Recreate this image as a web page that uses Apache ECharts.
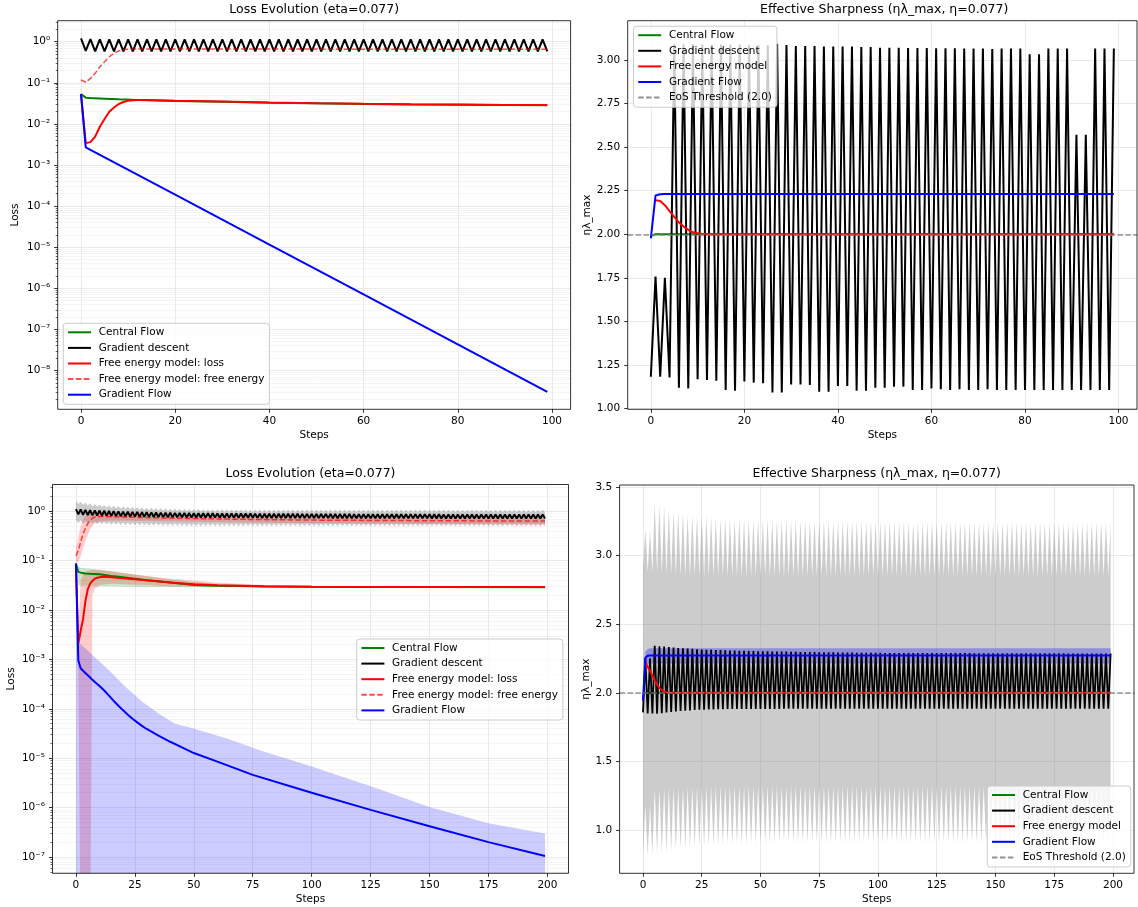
<!DOCTYPE html>
<html>
<head>
<meta charset="utf-8">
<title>Loss evolution and effective sharpness</title>
<script src="https://cdn.jsdelivr.net/npm/echarts@6/dist/echarts.min.js"></script>
<style>
  html, body { margin: 0; padding: 0; background: #ffffff; }
  #chart { width: 1138px; height: 907px; }
</style>
</head>
<body>
<div id="chart"></div>
<script>
// ---------- tick values ----------
const stepTicks100 = [0, 20, 40, 60, 80, 100];
const stepTicks200 = [0, 25, 50, 75, 100, 125, 150, 175, 200];
const tlLossTicks = [1e-8, 1e-7, 1e-6, 1e-5, 1e-4, 1e-3, 1e-2, 1e-1, 1];
const blLossTicks = [1e-7, 1e-6, 1e-5, 1e-4, 1e-3, 1e-2, 1e-1, 1];
const trSharpTicks = [1.0, 1.25, 1.5, 1.75, 2.0, 2.25, 2.5, 2.75, 3.0];
const brSharpTicks = [1.0, 1.5, 2.0, 2.5, 3.0, 3.5];

// ---------- top-left: loss, one run, 100 steps ----------
const tlGdLoss = [
  1.21,0.6,1.15,0.58,1.14,0.58,1.14,0.58,1.14,0.58,
  1.14,0.58,1.14,0.58,1.14,0.58,1.14,0.58,1.14,0.58,
  1.14,0.58,1.14,0.58,1.14,0.58,1.14,0.58,1.14,0.58,
  1.14,0.58,1.14,0.58,1.14,0.58,1.14,0.58,1.14,0.58,
  1.14,0.58,1.14,0.58,1.14,0.58,1.14,0.58,1.14,0.58,
  1.14,0.58,1.14,0.58,1.14,0.58,1.14,0.58,1.14,0.58,
  1.14,0.58,1.14,0.58,1.14,0.58,1.14,0.58,1.14,0.58,
  1.14,0.58,1.14,0.58,1.14,0.58,1.14,0.58,1.14,0.58,
  1.14,0.58,1.14,0.58,1.14,0.58,1.14,0.58,1.14,0.58,
  1.14,0.58,1.14,0.58,1.14,0.58,1.14,0.58,1.14,0.58
];
const tlCfSteps = [0,1,2,3,5,8,12,16,20,30,40,50,60,70,80,90,99];
const tlCfLoss = [0.053,0.0435,0.0425,0.042,0.041,0.0395,0.038,0.037,0.036,0.0345,0.0328,0.0316,0.0306,0.0298,0.0292,0.0288,0.0285];
const tlFeSteps = [0,1,2,3,4,5,6,7,8,9,10,11,12,13,14,16,20,30,40,50,60,70,80,90,99];
const tlFeLoss = [0.053,0.0034,0.0036,0.0049,0.0085,0.0132,0.0198,0.025,0.0305,0.034,0.0366,0.0378,0.0382,0.0382,0.038,0.0376,0.0368,0.035,0.0333,0.032,0.031,0.0302,0.0295,0.029,0.0287];
const tlFreeSteps = [0,1,2,3,4,5,6,7,8,9,10,11,12,15,20,40,60,80,99];
const tlFreeEnergy = [0.117,0.103,0.128,0.17,0.245,0.325,0.43,0.52,0.6,0.64,0.655,0.66,0.662,0.665,0.665,0.662,0.658,0.655,0.652];
const tlGfSteps = [0,1,2,20,40,60,80,99];
const tlGfLoss = [0.053,0.0027,0.00234,1.9e-4,1.16e-5,7.1e-7,4.3e-8,3.0e-9];

// ---------- top-right: sharpness, one run, 100 steps ----------
const trGdSharp = [
  1.183,1.757,1.183,1.751,1.178,3.09,1.12,3.09,1.116,3.09,
  1.168,3.09,1.164,3.088,1.16,3.088,1.107,3.088,1.103,3.088,
  1.155,3.086,1.149,3.086,1.145,3.086,1.093,3.092,1.092,3.086,
  1.139,3.08,1.139,3.08,1.136,3.08,1.097,3.077,1.097,3.077,
  1.13,3.077,1.13,3.077,1.103,3.074,1.103,3.074,1.12,3.07,
  1.12,3.07,1.126,3.07,1.126,3.068,1.107,3.068,1.107,3.068,
  1.116,3.067,1.111,3.067,1.107,3.067,1.111,3.066,1.107,3.066,
  1.107,3.065,1.111,3.062,1.107,3.065,1.107,3.065,1.107,3.065,
  1.107,3.033,1.107,3.033,1.107,3.065,1.107,3.065,1.107,3.065,
  1.107,2.57,1.107,2.57,1.107,3.065,1.107,3.065,1.107,3.065
];
const trCfSteps = [0,1,99];
const trCfSharp = [1.99,2.0,2.0];
const trFeSteps = [1,2,3,4,5,6,7,8,9,10,11,12,13,99];
const trFeSharp = [2.195,2.191,2.167,2.133,2.1,2.068,2.044,2.025,2.011,2.006,2.002,2.001,2.0,2.0];
const trGfSteps = [0,1,2,3,99];
const trGfSharp = [1.977,2.222,2.229,2.231,2.231];
const eosThreshold = 2.0;

// ---------- bottom-left: loss, mean and band over runs, 200 steps ----------
// gradient descent zigzags: even steps are the high side, odd steps the low side
const blGdEven = [
  1.10,1.08,1.065,1.05,1.04,1.03,1.02,1.01,1.0,0.99,
  0.98,0.975,0.97,0.963,0.957,0.951,0.946,0.941,0.936,0.932,
  0.928,0.924,0.921,0.918,0.915,0.912,0.91,0.908,0.906,0.904,
  0.902,0.9,0.898,0.897,0.896,0.895,0.894,0.893,0.892,0.891,
  0.89,0.889,0.888,0.887,0.886,0.885,0.884,0.883,0.882,0.881,
  0.88,0.879,0.878,0.877,0.876,0.875,0.874,0.873,0.872,0.871,
  0.87,0.87,0.869,0.869,0.868,0.868,0.867,0.867,0.866,0.866,
  0.865,0.865,0.864,0.864,0.863,0.863,0.862,0.862,0.861,0.861,
  0.86,0.86,0.86,0.859,0.859,0.859,0.858,0.858,0.858,0.857,
  0.857,0.857,0.856,0.856,0.856,0.855,0.855,0.855,0.855,0.855
];
const blGdOdd = [
  0.86,0.845,0.835,0.825,0.817,0.81,0.804,0.798,0.793,0.788,
  0.784,0.78,0.776,0.772,0.769,0.766,0.763,0.76,0.758,0.756,
  0.754,0.752,0.75,0.748,0.746,0.745,0.744,0.743,0.742,0.741,
  0.74,0.739,0.738,0.737,0.736,0.735,0.734,0.733,0.732,0.731,
  0.73,0.73,0.729,0.729,0.728,0.728,0.727,0.727,0.726,0.726,
  0.725,0.725,0.724,0.724,0.723,0.723,0.722,0.722,0.721,0.721,
  0.72,0.72,0.72,0.719,0.719,0.719,0.718,0.718,0.718,0.717,
  0.717,0.717,0.716,0.716,0.716,0.715,0.715,0.715,0.714,0.714,
  0.714,0.713,0.713,0.713,0.712,0.712,0.712,0.711,0.711,0.711,
  0.71,0.71,0.71,0.71,0.71,0.71,0.71,0.71,0.71,0.71
];
const blGdHiEven = [
  1.62,1.55,1.49,1.44,1.40,1.37,1.34,1.31,1.29,1.27,
  1.25,1.235,1.22,1.205,1.19,1.18,1.17,1.16,1.15,1.14,
  1.133,1.127,1.121,1.116,1.111,1.107,1.103,1.1,1.097,1.094,
  1.092,1.09,1.088,1.086,1.084,1.082,1.081,1.08,1.08,1.08,
  1.079,1.079,1.079,1.079,1.079,1.079,1.079,1.079,1.079,1.079,
  1.078,1.078,1.078,1.078,1.078,1.078,1.078,1.078,1.078,1.078,
  1.077,1.077,1.077,1.077,1.077,1.077,1.077,1.077,1.077,1.077,
  1.076,1.076,1.076,1.076,1.076,1.076,1.076,1.076,1.076,1.076,
  1.075,1.075,1.075,1.075,1.075,1.075,1.075,1.075,1.075,1.075,
  1.074,1.074,1.074,1.074,1.074,1.074,1.074,1.074,1.074,1.074
];
const blGdHiOdd = [
  1.40,1.35,1.30,1.26,1.23,1.20,1.18,1.16,1.14,1.12,
  1.105,1.09,1.08,1.07,1.06,1.05,1.04,1.03,1.02,1.01,
  1.005,1.0,0.995,0.99,0.985,0.98,0.977,0.974,0.971,0.968,
  0.966,0.964,0.962,0.96,0.958,0.957,0.956,0.955,0.955,0.955,
  0.954,0.954,0.954,0.954,0.954,0.954,0.954,0.954,0.954,0.954,
  0.953,0.953,0.953,0.953,0.953,0.953,0.953,0.953,0.953,0.953,
  0.952,0.952,0.952,0.952,0.952,0.952,0.952,0.952,0.952,0.952,
  0.951,0.951,0.951,0.951,0.951,0.951,0.951,0.951,0.951,0.951,
  0.95,0.95,0.95,0.95,0.95,0.95,0.95,0.95,0.95,0.95,
  0.95,0.95,0.95,0.95,0.95,0.95,0.95,0.95,0.95,0.95
];
const blGdLoEven = [
  0.66,0.65,0.64,0.632,0.625,0.618,0.612,0.607,0.602,0.598,
  0.594,0.59,0.587,0.584,0.581,0.579,0.577,0.575,0.573,0.571,
  0.57,0.569,0.568,0.567,0.566,0.565,0.564,0.563,0.563,0.563,
  0.563,0.563,0.563,0.563,0.563,0.563,0.563,0.563,0.563,0.563,
  0.563,0.563,0.563,0.563,0.563,0.563,0.563,0.563,0.563,0.563,
  0.563,0.563,0.563,0.563,0.563,0.563,0.563,0.563,0.563,0.563,
  0.563,0.563,0.563,0.563,0.563,0.563,0.563,0.563,0.563,0.563,
  0.563,0.563,0.563,0.563,0.563,0.563,0.563,0.563,0.563,0.563,
  0.562,0.562,0.562,0.562,0.562,0.562,0.562,0.562,0.562,0.562,
  0.562,0.562,0.562,0.562,0.562,0.562,0.562,0.562,0.562,0.562
];
const blGdLoOdd = [
  0.58,0.57,0.562,0.555,0.549,0.543,0.538,0.533,0.529,0.525,
  0.522,0.519,0.516,0.513,0.511,0.509,0.507,0.505,0.503,0.502,
  0.501,0.5,0.499,0.498,0.497,0.497,0.497,0.497,0.497,0.497,
  0.497,0.497,0.497,0.497,0.497,0.497,0.497,0.497,0.497,0.497,
  0.497,0.497,0.497,0.497,0.497,0.497,0.497,0.497,0.497,0.497,
  0.497,0.497,0.497,0.497,0.497,0.497,0.497,0.497,0.497,0.497,
  0.497,0.497,0.497,0.497,0.497,0.497,0.497,0.497,0.497,0.497,
  0.497,0.497,0.497,0.497,0.497,0.497,0.497,0.497,0.497,0.497,
  0.497,0.497,0.497,0.497,0.497,0.497,0.497,0.497,0.497,0.497,
  0.497,0.497,0.497,0.497,0.497,0.497,0.497,0.497,0.497,0.497
];
const blCfSteps = [0,1,2,4,6,10,15,20,25,30,40,50,60,70,80,100,120,150,199];
const blCfLoss = [0.087,0.059,0.057,0.055,0.054,0.053,0.049,0.046,0.043,0.04,0.036,0.0322,0.0311,0.0305,0.03,0.0296,0.0293,0.0291,0.029];
const blCfBandSteps = [0,1,2,5,10,15,20,30,40,50,60,80,100,150,199];
const blCfBandHi = [0.087,0.075,0.072,0.069,0.066,0.061,0.057,0.048,0.042,0.037,0.034,0.031,0.03,0.0293,0.0292];
const blCfBandLo = [0.087,0.032,0.031,0.031,0.03,0.0298,0.0296,0.0293,0.0291,0.029,0.0289,0.0288,0.0288,0.0288,0.0288];
const blFeSteps = [0,1,2,3,4,5,6,7,8,9,10,12,15,20,25,30,40,50,60,80,100,150,199];
const blFeLoss = [0.085,0.0021,0.0038,0.0065,0.015,0.026,0.034,0.039,0.043,0.045,0.046,0.047,0.046,0.044,0.042,0.04,0.036,0.0333,0.0316,0.0303,0.0297,0.0293,0.0291];
// 1e-9 marks where the lower edge of the band falls below the axis
const blFeBandSteps = [0,1,2,3,4,5,6,7,8,10,15,20,30,40,60,80,100,150,199];
const blFeBandHi = [0.09,0.0036,0.04,0.05,0.058,0.062,0.064,0.065,0.065,0.064,0.06,0.056,0.049,0.043,0.036,0.032,0.0305,0.0296,0.0293];
const blFeBandLo = [0.08,0.0006,1e-9,1e-9,1e-9,1e-9,1e-9,0.02,0.027,0.032,0.034,0.033,0.032,0.03,0.0295,0.029,0.0289,0.0289,0.0289];
const blFreeSteps = [0,1,2,3,4,5,6,7,8,10,15,20,30,50,75,100,150,199];
const blFreeEnergy = [0.125,0.16,0.24,0.34,0.45,0.56,0.65,0.72,0.76,0.78,0.77,0.76,0.74,0.71,0.68,0.66,0.64,0.63];
const blFreeBandHi = [0.17,0.3,0.5,0.68,0.82,0.9,0.95,0.96,0.95,0.93,0.9,0.88,0.85,0.82,0.79,0.77,0.75,0.74];
const blFreeBandLo = [0.09,0.095,0.12,0.18,0.25,0.33,0.42,0.5,0.56,0.62,0.64,0.64,0.63,0.61,0.59,0.57,0.55,0.54];
const blGfSteps = [0,1,2,3,4,5,6,7,8,10,12,14,16,18,20,22,24,26,28,30,35,40,45,50,60,75,100,125,150,175,199];
const blGfLoss = [0.087,9.5e-4,6.6e-4,5.9e-4,5.3e-4,4.8e-4,4.3e-4,3.85e-4,3.5e-4,2.9e-4,2.35e-4,1.85e-4,1.45e-4,1.15e-4,9.3e-5,7.6e-5,6.3e-5,5.3e-5,4.5e-5,3.9e-5,2.85e-5,2.15e-5,1.65e-5,1.27e-5,8.5e-6,4.6e-6,2.0e-6,9e-7,4.2e-7,2.0e-7,1.05e-7];
const blGfBandSteps = [0,1,7,14,21,28,35,42,50,64,78,100,126,150,175,199];
const blGfBandHi = [0.087,2.26e-3,1.22e-3,6.0e-4,2.8e-4,1.4e-4,8.0e-5,5.0e-5,4.0e-5,2.5e-5,1.45e-5,6.8e-6,2.6e-6,1.03e-6,4.8e-7,3.0e-7];
const blGfBandLo = [1e-9,1e-9,1e-9,1e-9,1e-9,1e-9,1e-9,1e-9,1e-9,1e-9,1e-9,1e-9,1e-9,1e-9,1e-9,1e-9];

// ---------- bottom-right: sharpness, mean and band over runs, 200 steps ----------
const brGdEven = [
  1.857,1.85,1.85,1.848,1.852,1.856,1.86,1.864,1.867,1.87,
  1.872,1.874,1.876,1.877,1.878,1.879,1.88,1.881,1.882,1.882,
  1.883,1.883,1.883,1.883,1.883,1.883,1.883,1.883,1.883,1.883,
  1.884,1.884,1.884,1.884,1.884,1.884,1.884,1.884,1.884,1.884,
  1.884,1.884,1.884,1.884,1.884,1.884,1.884,1.884,1.884,1.884,
  1.884,1.884,1.884,1.884,1.884,1.884,1.884,1.884,1.884,1.884,
  1.884,1.884,1.884,1.884,1.884,1.884,1.884,1.884,1.884,1.884,
  1.884,1.884,1.884,1.884,1.884,1.884,1.884,1.884,1.884,1.884,
  1.884,1.884,1.884,1.884,1.884,1.884,1.884,1.884,1.884,1.884,
  1.884,1.884,1.884,1.884,1.884,1.884,1.884,1.884,1.884,1.884
];
const brGdOdd = [
  2.25,2.25,2.343,2.34,2.337,2.333,2.33,2.327,2.324,2.322,
  2.32,2.318,2.316,2.314,2.313,2.312,2.311,2.31,2.309,2.308,
  2.307,2.306,2.305,2.304,2.303,2.302,2.302,2.301,2.301,2.3,
  2.3,2.299,2.299,2.298,2.298,2.297,2.297,2.296,2.296,2.295,
  2.295,2.294,2.294,2.293,2.293,2.292,2.292,2.292,2.291,2.291,
  2.291,2.29,2.29,2.29,2.29,2.29,2.289,2.289,2.289,2.289,
  2.289,2.289,2.289,2.289,2.289,2.289,2.289,2.289,2.289,2.289,
  2.288,2.288,2.288,2.288,2.288,2.288,2.288,2.288,2.288,2.288,
  2.288,2.288,2.288,2.288,2.288,2.288,2.288,2.288,2.288,2.288,
  2.287,2.287,2.287,2.287,2.287,2.287,2.287,2.287,2.287,2.287
];
const brGdHiEven = [
  2.9,2.885,2.88,2.875,2.87,2.865,2.862,2.86,2.858,2.856,
  2.855,2.854,2.853,2.852,2.852,2.851,2.851,2.85,2.85,2.85,
  2.85,2.85,2.85,2.85,2.85,2.85,2.85,2.85,2.85,2.85,
  2.85,2.85,2.85,2.85,2.85,2.85,2.85,2.85,2.85,2.85,
  2.85,2.85,2.85,2.85,2.85,2.85,2.85,2.85,2.85,2.85,
  2.85,2.85,2.85,2.85,2.85,2.85,2.85,2.85,2.85,2.85,
  2.85,2.85,2.85,2.85,2.85,2.85,2.85,2.85,2.85,2.85,
  2.85,2.85,2.85,2.85,2.85,2.85,2.85,2.85,2.85,2.85,
  2.85,2.85,2.85,2.85,2.85,2.85,2.85,2.85,2.85,2.85,
  2.85,2.85,2.85,2.85,2.85,2.85,2.85,2.85,2.85,2.85
];
const brGdHiOdd = [
  3.193,3.181,3.38,3.37,3.356,3.332,3.321,3.321,3.31,3.297,
  3.3,3.295,3.295,3.283,3.283,3.273,3.273,3.27,3.268,3.266,
  3.265,3.264,3.263,3.262,3.261,3.26,3.26,3.259,3.259,3.258,
  3.258,3.257,3.257,3.256,3.256,3.255,3.255,3.254,3.254,3.254,
  3.253,3.253,3.252,3.252,3.251,3.251,3.25,3.25,3.25,3.249,
  3.249,3.248,3.248,3.247,3.247,3.247,3.246,3.246,3.246,3.245,
  3.245,3.245,3.245,3.245,3.245,3.245,3.245,3.245,3.245,3.245,
  3.244,3.244,3.244,3.244,3.244,3.244,3.244,3.244,3.244,3.244,
  3.243,3.243,3.243,3.243,3.243,3.243,3.243,3.243,3.243,3.243,
  3.242,3.242,3.242,3.242,3.242,3.242,3.242,3.242,3.242,3.242
];
const brGdLoEven = [
  0.812,0.818,0.824,0.83,0.836,0.842,0.848,0.854,0.86,0.866,
  0.872,0.876,0.88,0.883,0.886,0.889,0.891,0.893,0.895,0.897,
  0.899,0.9,0.901,0.902,0.903,0.904,0.905,0.906,0.907,0.908,
  0.909,0.909,0.909,0.909,0.909,0.909,0.909,0.909,0.909,0.909,
  0.909,0.909,0.909,0.909,0.909,0.909,0.909,0.909,0.909,0.909,
  0.909,0.909,0.909,0.909,0.909,0.909,0.909,0.909,0.909,0.909,
  0.909,0.909,0.909,0.909,0.909,0.909,0.909,0.909,0.909,0.909,
  0.909,0.909,0.909,0.909,0.909,0.909,0.909,0.909,0.909,0.909,
  0.909,0.909,0.909,0.909,0.909,0.909,0.909,0.909,0.909,0.909,
  0.909,0.909,0.909,0.909,0.909,0.909,0.909,0.909,0.909,0.909
];
const brGdLoOdd = [
  1.176,1.18,1.298,1.3,1.302,1.304,1.306,1.308,1.31,1.312,
  1.313,1.314,1.315,1.316,1.316,1.317,1.317,1.318,1.318,1.318,
  1.319,1.319,1.319,1.319,1.319,1.319,1.319,1.319,1.319,1.319,
  1.32,1.32,1.32,1.32,1.32,1.32,1.32,1.32,1.32,1.32,
  1.32,1.32,1.32,1.32,1.32,1.32,1.32,1.32,1.32,1.32,
  1.32,1.32,1.32,1.32,1.32,1.32,1.32,1.32,1.32,1.32,
  1.32,1.32,1.32,1.32,1.32,1.32,1.32,1.32,1.32,1.32,
  1.32,1.32,1.32,1.32,1.32,1.32,1.32,1.32,1.32,1.32,
  1.32,1.32,1.32,1.32,1.32,1.32,1.32,1.32,1.32,1.32,
  1.32,1.32,1.32,1.32,1.32,1.32,1.32,1.32,1.32,1.32
];
const brCfSteps = [0,1,199];
const brCfSharp = [1.995,2.0,2.0];
const brFeSteps = [1,2,3,4,5,6,7,8,9,10,11,12,199];
const brFeSharp = [2.225,2.19,2.16,2.125,2.09,2.058,2.036,2.02,2.01,2.005,2.002,2.0,2.0];
const brGfSteps = [0,1,2,3,199];
const brGfSharp = [1.942,2.255,2.27,2.272,2.272];
const brGfBandHi = [1.96,2.3,2.32,2.325,2.325];
const brGfBandLo = [1.92,2.2,2.212,2.214,2.214];

const legendLoss = ['Central Flow', 'Gradient descent', 'Free energy model: loss', 'Free energy model: free energy', 'Gradient Flow'];
const legendSharp = ['Central Flow', 'Gradient descent', 'Free energy model', 'Gradient Flow', 'EoS Threshold (2.0)'];

// ---------- helpers ----------
const FONT = 'DejaVu Sans';
const TXT = { fontFamily: FONT, fontSize: 10.5, color: '#000' };
const GRIDLINE = { color: '#e4e4e4', width: 0.8 };
const GREEN = '#008000', BLACK = '#000000', RED = '#ff0000', BLUE = '#0000ff';

const pairs = (xs, ys) => xs.map((x, i) => [x, ys[i]]);
const byStep = ys => ys.map((y, i) => [i, y]);
const interleave = (even, odd) => {
  const out = [];
  even.forEach((v, i) => { out.push(v); if (i < odd.length) out.push(odd[i]); });
  return out;
};
const idx = n => Array.from({ length: n }, (_, i) => i);
const SUP = { '-': '\u207b', '0': '\u2070', '1': '\u00b9', '2': '\u00b2', '3': '\u00b3', '4': '\u2074', '5': '\u2075', '6': '\u2076', '7': '\u2077', '8': '\u2078', '9': '\u2079' };
const sup = n => String(n).split('').map(c => SUP[c]).join('');

const tick = values => ({ show: true, length: 3.5, customValues: values, lineStyle: { color: '#000', width: 0.8 } });

function stepsAxis(grid, min, max, step, ticks) {
  return {
    type: 'value', gridIndex: grid, min, max, minInterval: step, maxInterval: step,
    name: 'Steps', nameLocation: 'middle', nameGap: 20.5, nameTextStyle: TXT,
    axisLine: { show: false, onZero: false }, axisTick: tick(ticks),
    axisLabel: Object.assign({ margin: 6, customValues: ticks, formatter: v => String(Math.round(v)) }, TXT),
    splitLine: { show: true, lineStyle: GRIDLINE }
  };
}

function lossAxis(grid, minExp, maxExp, gap, ticks) {
  return {
    type: 'log', logBase: 10, gridIndex: grid, min: Math.pow(10, minExp), max: Math.pow(10, maxExp), splitNumber: 10,
    name: 'Loss', nameLocation: 'middle', nameGap: gap, nameTextStyle: TXT,
    axisLine: { show: false, onZero: false }, axisTick: tick(ticks),
    minorTick: { show: true, splitNumber: 9, length: 2, lineStyle: { color: '#000', width: 0.6 } },
    axisLabel: Object.assign({ margin: 7.5, customValues: ticks,
      formatter: v => '10' + sup(Math.round(Math.log10(v))) }, TXT),
    splitLine: { show: true, lineStyle: GRIDLINE },
    minorSplitLine: { show: true, lineStyle: { color: '#efefef', width: 0.6 } }
  };
}

function sharpAxis(grid, min, max, step, digits, gap, ticks) {
  return {
    type: 'value', gridIndex: grid, min, max, minInterval: step, maxInterval: step,
    name: '\u03b7\u03bb_max', nameLocation: 'middle', nameGap: gap, nameTextStyle: TXT,
    axisLine: { show: false, onZero: false }, axisTick: tick(ticks),
    axisLabel: Object.assign({ margin: 7.5, customValues: ticks, formatter: v => v.toFixed(digits) }, TXT),
    splitLine: { show: true, lineStyle: GRIDLINE }
  };
}

function line(name, grid, data, color, extra) {
  return Object.assign({
    name, type: 'line', xAxisIndex: grid, yAxisIndex: grid, data,
    symbol: 'none', silent: true, animation: false, z: 3, clip: true,
    lineStyle: { color, width: 2 }, itemStyle: { color },
    emphasis: { disabled: true }
  }, extra || {});
}

function band(grid, xs, lo, hi, fill) {
  return {
    type: 'custom', xAxisIndex: grid, yAxisIndex: grid, silent: true, animation: false, z: 1, clip: true,
    data: [[xs[0], hi[0]]],
    renderItem: (params, api) => {
      const pts = [];
      xs.forEach((x, i) => pts.push(api.coord([x, hi[i]])));
      for (let i = xs.length - 1; i >= 0; i--) pts.push(api.coord([xs[i], lo[i]]));
      const cs = params.coordSys;
      return {
        type: 'polygon', shape: { points: pts }, style: { fill },
        clipPath: { type: 'rect', shape: { x: cs.x, y: cs.y, width: cs.width, height: cs.height } }
      };
    }
  };
}

function eos(grid) {
  const style = { color: 'rgba(128,128,128,0.85)', width: 1.5, type: [5.5, 2.4] };
  return {
    name: 'EoS Threshold (2.0)', type: 'line', xAxisIndex: grid, yAxisIndex: grid, data: [],
    symbol: 'none', silent: true, animation: false, z: 4,
    lineStyle: style, itemStyle: { color: style.color },
    markLine: { silent: true, symbol: 'none', animation: false, label: { show: false },
      lineStyle: style, data: [{ yAxis: eosThreshold }] }
  };
}

function legendAt(left, top, names) {
  return {
    orient: 'vertical', left, top, data: names, selectedMode: false,
    itemWidth: 23, itemHeight: 12, itemGap: 3.6, padding: [3, 5, 3.6, 3.7],
    backgroundColor: 'rgba(255,255,255,0.8)', borderColor: '#cccccc', borderWidth: 1, borderRadius: 3,
    itemStyle: { opacity: 0 },
    textStyle: Object.assign({ lineHeight: 12, padding: [0, 0, 0, 2.7] }, TXT)
  };
}

function title(x, y, text) {
  return { type: 'text', x, y, silent: true,
    style: { text, fill: '#000', font: '12.5px "DejaVu Sans"', textAlign: 'center', textVerticalAlign: 'middle', align: 'center', verticalAlign: 'middle' } };
}

function frame(b) {
  return { type: 'rect', silent: true, z: 100,
    shape: { x: b.left, y: b.top, width: b.width, height: b.height },
    style: { fill: 'none', stroke: '#000', lineWidth: 0.8 } };
}

const FREE_STYLE = { lineStyle: { color: 'rgba(255,0,0,0.7)', width: 1.5, type: [5.5, 2.4] }, itemStyle: { color: 'rgba(255,0,0,0.7)' } };

const series = [
  // top-left
  line('Central Flow', 0, pairs(tlCfSteps, tlCfLoss), GREEN),
  line('Gradient descent', 0, byStep(tlGdLoss), BLACK),
  line('Free energy model: loss', 0, pairs(tlFeSteps, tlFeLoss), RED),
  line('Free energy model: free energy', 0, pairs(tlFreeSteps, tlFreeEnergy), RED, FREE_STYLE),
  line('Gradient Flow', 0, pairs(tlGfSteps, tlGfLoss), BLUE),
  // top-right
  line('Central Flow', 1, pairs(trCfSteps, trCfSharp), GREEN),
  line('Gradient descent', 1, byStep(trGdSharp), BLACK),
  line('Free energy model', 1, pairs(trFeSteps, trFeSharp), RED),
  line('Gradient Flow', 1, pairs(trGfSteps, trGfSharp), BLUE),
  eos(1),
  // bottom-left
  band(2, idx(200), interleave(blGdLoEven, blGdLoOdd), interleave(blGdHiEven, blGdHiOdd), 'rgba(128,128,128,0.4)'),
  band(2, blCfBandSteps, blCfBandLo, blCfBandHi, 'rgba(0,128,0,0.2)'),
  band(2, blFeBandSteps, blFeBandLo, blFeBandHi, 'rgba(255,0,0,0.2)'),
  band(2, blFreeSteps, blFreeBandLo, blFreeBandHi, 'rgba(255,0,0,0.2)'),
  band(2, blGfBandSteps, blGfBandLo, blGfBandHi, 'rgba(0,0,255,0.2)'),
  line('Central Flow', 2, pairs(blCfSteps, blCfLoss), GREEN),
  line('Gradient descent', 2, byStep(interleave(blGdEven, blGdOdd)), BLACK),
  line('Free energy model: loss', 2, pairs(blFeSteps, blFeLoss), RED),
  line('Free energy model: free energy', 2, pairs(blFreeSteps, blFreeEnergy), RED, FREE_STYLE),
  line('Gradient Flow', 2, pairs(blGfSteps, blGfLoss), BLUE),
  // bottom-right
  band(3, idx(200), interleave(brGdLoEven, brGdLoOdd), interleave(brGdHiEven, brGdHiOdd), 'rgba(128,128,128,0.4)'),
  band(3, brGfSteps, brGfBandLo, brGfBandHi, 'rgba(0,0,255,0.3)'),
  line('Central Flow', 3, pairs(brCfSteps, brCfSharp), GREEN),
  line('Gradient descent', 3, byStep(interleave(brGdEven, brGdOdd)), BLACK, { lineStyle: { color: BLACK, width: 1.8 } }),
  line('Free energy model', 3, pairs(brFeSteps, brFeSharp), RED),
  line('Gradient Flow', 3, pairs(brGfSteps, brGfSharp), BLUE),
  eos(3)
];

const boxes = [
  { left: 57.7, top: 20.7, width: 512.9, height: 388.6 },
  { left: 627.7, top: 20.7, width: 509.3, height: 388.6 },
  { left: 52.5, top: 484.5, width: 516, height: 388.8 },
  { left: 619.6, top: 485, width: 514.4, height: 388.3 }
];

const option = {
  animation: false,
  backgroundColor: '#ffffff',
  textStyle: { fontFamily: FONT },
  grid: boxes.map(b => Object.assign({ show: false, containLabel: false, outerBoundsMode: 'none' }, b)),
  xAxis: [
    stepsAxis(0, -4.95, 103.95, 20, stepTicks100),
    stepsAxis(1, -4.95, 103.95, 20, stepTicks100),
    stepsAxis(2, -9.95, 208.95, 25, stepTicks200),
    stepsAxis(3, -9.95, 208.95, 25, stepTicks200)
  ],
  yAxis: [
    lossAxis(0, -8.945, 0.511, 36.7, tlLossTicks),
    sharpAxis(1, 0.996, 3.225, 0.25, 2, 33.7, trSharpTicks),
    lossAxis(2, -7.33, 0.54, 35.5, blLossTicks),
    sharpAxis(3, 0.684, 3.515, 0.5, 1, 27.6, brSharpTicks)
  ],
  legend: [
    legendAt(63.3, 323.3, legendLoss),
    legendAt(633.5, 26.2, legendSharp),
    legendAt(356.7, 639, legendLoss),
    legendAt(987.3, 786, legendSharp)
  ],
  graphic: boxes.map(frame).concat([
    title(314.2, 10, 'Loss Evolution (eta=0.077)'),
    title(884.2, 10, 'Effective Sharpness (\u03b7\u03bb_max, \u03b7=0.077)'),
    title(310.5, 474, 'Loss Evolution (eta=0.077)'),
    title(876.8, 474, 'Effective Sharpness (\u03b7\u03bb_max, \u03b7=0.077)')
  ]),
  series
};

const chart = echarts.init(document.getElementById('chart'));
chart.setOption(option);
</script>
</body>
</html>
